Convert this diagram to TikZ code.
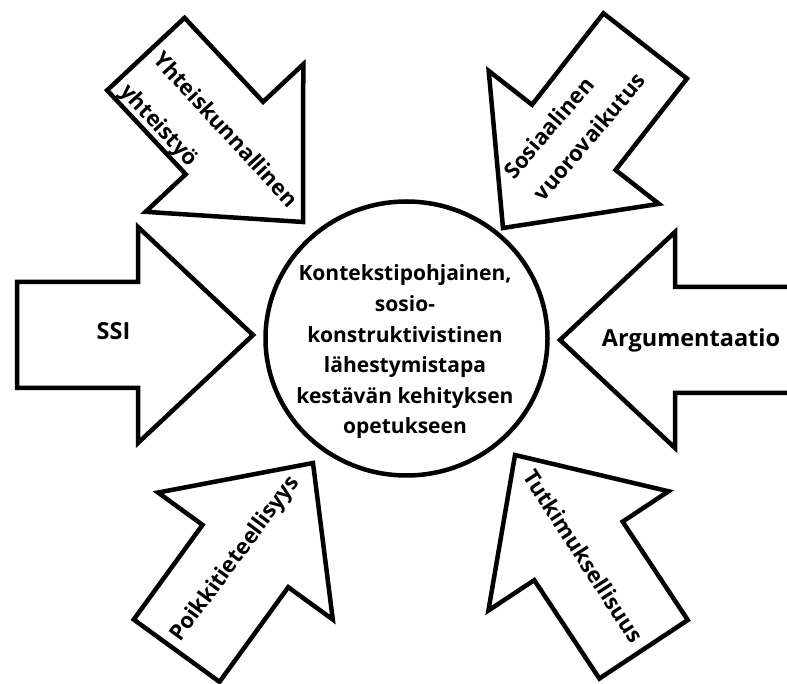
\documentclass[tikz,border=0pt]{standalone}
\usepackage{fontspec}
\setmainfont{Open Sans}
\begin{document}
\begin{tikzpicture}[x=1pt,y=1pt,
  outline/.style={draw=black, line width=4.5pt, fill=white, line join=miter},
  lbl/.style={font=\fontsize{23.5}{30}\selectfont\bfseries, inner sep=0pt},
  rlbl/.style={font=\fontsize{22}{30}\selectfont\bfseries, inner sep=0pt},
  ctext/.style={font=\fontsize{21}{30.6}\selectfont\bfseries, inner sep=0pt, align=center},
  bigarrow/.pic={\path[outline] (0,0) -- (-115,108) -- (-115,53) -- (-#1,53) -- (-#1,-53) -- (-115,-53) -- (-115,-108) -- cycle;}
]
\useasboundingbox (0,0) rectangle (787,683);
\fill[white] (0,0) rectangle (787,683);
\clip (0,0) rectangle (787,683);
% arrows
\pic at (253,348) {bigarrow=236};
\pic[rotate=180] at (560,343) {bigarrow=236};
\pic[rotate=-46.9] at (303,461) {bigarrow=230};
\pic[rotate=-128] at (503,455) {bigarrow=231};
\pic[rotate=54] at (313,220) {bigarrow=232};
\pic[rotate=123.5] at (515,228) {bigarrow=233};
% centre
\draw[outline] (406.5,344.5) ellipse [x radius=141, y radius=137];
\node[ctext] (centre) at (405,331) {Kontekstipohjainen,\\sosio-\\konstruktivistinen\\lähestymistapa\\kestävän kehityksen\\opetukseen};
% labels
\node[lbl, anchor=base] (tssi) at (113.5,343) {SSI};
\node[lbl, anchor=base] (targ) at (691,336) {Argumentaatio};
\node[rlbl, rotate=-47.4, anchor=mid west] (ttl1) at (154,624) {Yhteiskunnallinen};
\node[rlbl, rotate=-47.4, anchor=mid west] (ttl2) at (121.3,592.7) {yhteistyö};
\node[rlbl, rotate=49.5, anchor=mid west] (ttr1) at (512,504) {Sosiaalinen};
\node[rlbl, rotate=49.5, anchor=mid west] (ttr2) at (541.7,482.3) {vuorovaikutus};
\node[rlbl, rotate=53.5, anchor=mid] (tbl) at (238,122) {Poikkitieteellisyys};
\node[rlbl, rotate=-57, anchor=mid] (tbr) at (579.2,123.8) {Tutkimuksellisuus};
\end{tikzpicture}
\end{document}
